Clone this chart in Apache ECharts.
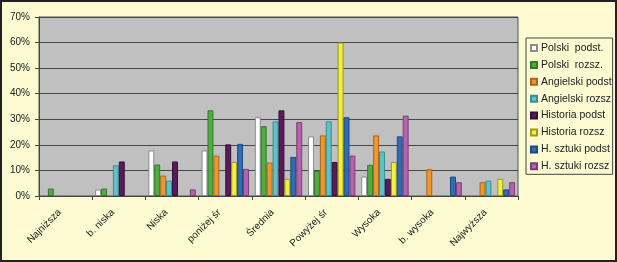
<!DOCTYPE html>
<html>
<head>
<meta charset="utf-8">
<script src="https://cdn.jsdelivr.net/npm/echarts@6/dist/echarts.min.js"></script>
<style>
html,body{margin:0;padding:0;background:#FCFAD1;}
#c{width:617px;height:262px;}
</style>
</head>
<body>
<div id="c"></div>
<script>
const categories = ['Najniższa','b. niska','Niska','poniżej śr','Średnia','Powyżej śr','Wysoka','b. wysoka','Najwyższa'];
const seriesNames = ['Polski  podst.','Polski  rozsz.','Angielski podst','Angielski rozsz','Historia podst','Historia rozsz','H. sztuki podst','H. sztuki rozsz'];
const polskiPodst    = [0, 2.5, 17.8, 17.8, 30.8, 23.3, 7.6, 0, 0];
const polskiRozsz    = [2.9, 2.9, 12.3, 33.5, 27.3, 9.8, 12.2, 0, 0];
const angielskiPodst = [0, 0, 8, 15.8, 13.1, 23.7, 23.7, 10.5, 5.4];
const angielskiRozsz = [0, 12, 6, 0, 29.2, 29.2, 17.4, 0, 6];
const historiaPodst  = [0, 13.5, 13.5, 20.2, 33.5, 13.3, 6.7, 0, 0];
const historiaRozsz  = [0, 0, 0, 13.3, 6.7, 60, 13.3, 0, 6.7];
const sztukiPodst    = [0, 0, 0, 20.4, 15.3, 30.8, 23.3, 7.6, 2.6];
const sztukiRozsz    = [0, 0, 2.6, 10.6, 28.9, 15.8, 31.4, 5.4, 5.4];
const yTicks = [0, 10, 20, 30, 40, 50, 60, 70];

const values = [polskiPodst, polskiRozsz, angielskiPodst, angielskiRozsz, historiaPodst, historiaRozsz, sztukiPodst, sztukiRozsz];
const fills   = ['#FFFFFF','#4FAE3F','#F0962F','#5EC3C8','#5A1B5C','#F3EF3E','#2F6CB4','#B463AC'];
const borders = ['#8A8A8A','#2E7A28','#A8661C','#3A8C92','#33103A','#9C9A20','#1D4A80','#7A3D74'];

const font = "'Liberation Sans', Arial, sans-serif";
const chart = echarts.init(document.getElementById('c'), null, {renderer:'canvas'});
chart.setOption({
  backgroundColor: '#FCFAD1',
  animation: false,
  textStyle: {fontFamily: font},
  grid: {left: 39, top: 17, right: 99, bottom: 66, show: true, backgroundColor: '#C0C0C0', borderColor: '#555', borderWidth: 1},
  legend: {
    orient: 'vertical', left: 526, top: 38,
    itemWidth: 6, itemHeight: 6, itemGap: 4.9,
    padding: [4, 1, 2, 4],
    backgroundColor: '#FCFAD1', borderColor: '#444', borderWidth: 1,
    borderRadius: 0,
    icon: 'rect',
    textStyle: {fontFamily: font, fontSize: 10.5, color: '#222', lineHeight: 12, padding: [0,0,0,-1]},
    data: seriesNames
  },
  xAxis: {
    type: 'category', data: categories, boundaryGap: true,
    axisLine: {show: true, lineStyle: {color: '#444', width: 1}},
    axisTick: {show: true, length: 4, lineStyle: {color: '#444'}},
    axisLabel: {rotate: 45, fontSize: 10, color: '#222', fontFamily: font, margin: 9, interval: 0,
      formatter: v => v + '   '}
  },
  yAxis: {
    type: 'value', min: yTicks[0], max: yTicks[yTicks.length-1], interval: 10,
    axisLine: {show: true, lineStyle: {color: '#444', width: 1}},
    axisTick: {show: true, length: 4, lineStyle: {color: '#444'}},
    axisLabel: {formatter: '{value}%', fontSize: 10, color: '#222', fontFamily: font, margin: 9},
    splitLine: {show: true, lineStyle: {color: '#474747', width: 1}}
  },
  graphic: [{
    type: 'rect', silent: true, z: 100,
    shape: {x: 1, y: 1, width: 615, height: 260},
    style: {fill: 'none', stroke: '#222', lineWidth: 2}
  }],
  series: seriesNames.map((n, i) => ({
    name: n, type: 'bar',
    data: values[i].map(v => v === 0 ? null : v),
    barGap: '0%', barCategoryGap: '11%',
    itemStyle: {color: fills[i], borderColor: borders[i], borderWidth: 1}
  }))
});
</script>
</body>
</html>
